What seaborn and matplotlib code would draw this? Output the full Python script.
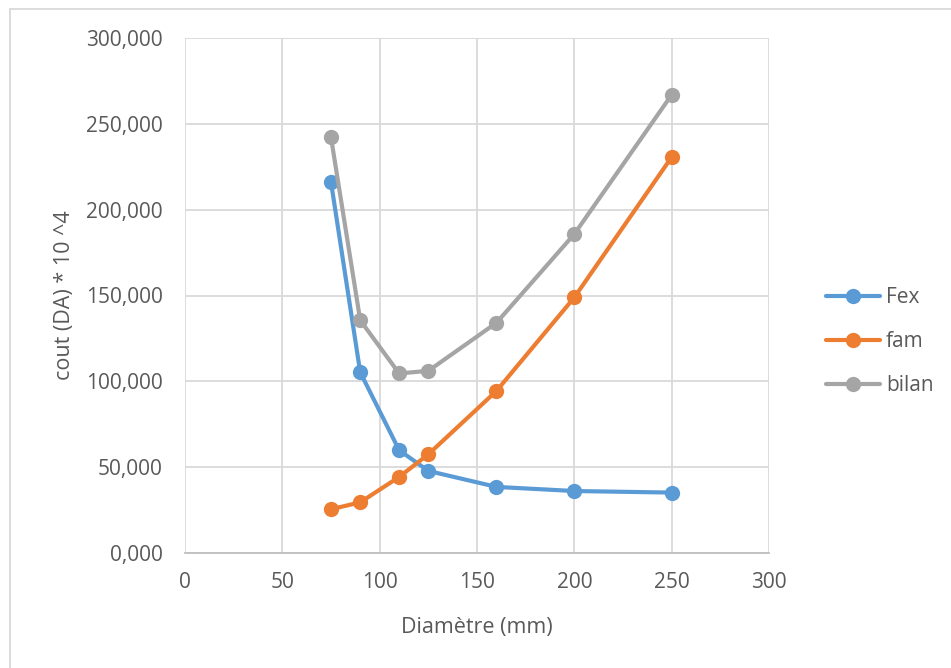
import matplotlib
matplotlib.use("Agg")
import matplotlib.pyplot as plt
from matplotlib.patches import Rectangle
from matplotlib.ticker import FuncFormatter, MultipleLocator
import pandas as pd
import seaborn as sns

# Pipe diameters (mm) and costs (DA * 10^4)
diametre = [75, 90, 110, 125, 160, 200, 250]
fex = [216.1, 105.3, 59.9, 47.8, 38.5, 36.1, 35.2]
fam = [25.5, 29.5, 44.3, 57.5, 94.4, 148.9, 230.6]
bilan = [242.1, 135.6, 104.6, 106.1, 134.1, 185.8, 266.9]
series_names = ["Fex", "fam", "bilan"]
x_ticks = [0, 50, 100, 150, 200, 250, 300]

df = pd.DataFrame({"Diamètre": diametre, "Fex": fex, "fam": fam, "bilan": bilan})
long = df.melt(id_vars="Diamètre", var_name="serie", value_name="cout")

sns.set_theme(style="white")
plt.rcParams["font.family"] = ["Open Sans", "DejaVu Sans"]

text_color = "#595959"
grid_color = "#D9D9D9"
palette = {"Fex": "#5B9BD5", "fam": "#ED7D31", "bilan": "#A5A5A5"}

fig = plt.figure(figsize=(9.51, 6.68), dpi=100)
fig.patch.set_facecolor("white")
ax = fig.add_axes([185 / 951, 1 - 553 / 668, (769 - 185) / 951, (553 - 38) / 668])

sns.lineplot(data=long, x="Diamètre", y="cout", hue="serie", hue_order=series_names,
             palette=palette, marker="o", markersize=11, linewidth=3,
             markeredgewidth=0, ax=ax, sort=False, legend=True)

ax.set_xlim(0, 300)
ax.set_ylim(0, 300)
ax.set_xticks(x_ticks)
ax.yaxis.set_major_locator(MultipleLocator(50))
ax.yaxis.set_major_formatter(FuncFormatter(lambda v, p: f"{v:.3f}".replace(".", ",")))

ax.grid(True, color=grid_color, linewidth=1.3)
ax.set_axisbelow(True)
for side in ["top", "right", "left"]:
    ax.spines[side].set_visible(False)
ax.spines["bottom"].set_color("#BFBFBF")
ax.spines["bottom"].set_linewidth(1.3)

ax.tick_params(axis="both", length=0, labelsize=15, labelcolor=text_color)
ax.tick_params(axis="x", pad=14)
ax.tick_params(axis="y", pad=16)

ax.set_xlabel("Diamètre (mm)", fontsize=15.5, color=text_color, labelpad=17)
ax.set_ylabel("cout (DA) * 10 ^4", fontsize=15.5, color=text_color, labelpad=8)

leg = ax.legend(loc="center left", bbox_to_anchor=(1.065, 0.41), frameon=False,
                fontsize=15, handlelength=2.6, handletextpad=0.3, labelspacing=1.1)
for t in leg.get_texts():
    t.set_color(text_color)

# Chart outline
fig.patches.append(Rectangle((10 / 951, -0.05), 1.2, 1 - 9 / 668 + 0.05,
                             transform=fig.transFigure, fill=False,
                             edgecolor="#D9D9D9", linewidth=1.3))

fig.savefig("out.png", dpi=100)
